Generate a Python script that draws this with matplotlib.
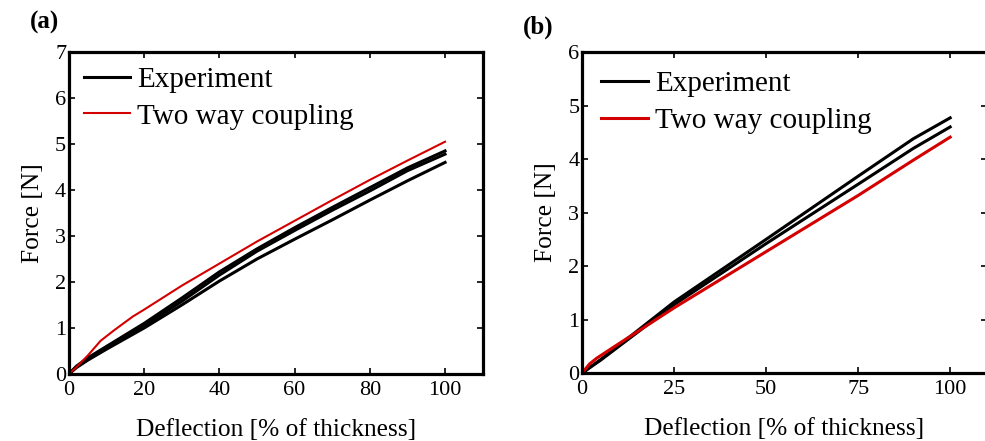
import matplotlib
matplotlib.use("Agg")
import matplotlib.pyplot as plt

plt.rcParams['font.family'] = ['Liberation Serif', 'DejaVu Serif']
plt.rcParams['mathtext.fontset'] = 'stix'

# Panel (a) data: deflection [% of thickness] vs force [N]
a_exp_x = [0, 2, 5, 10, 20, 30, 40, 50, 60, 70, 80, 90, 100]
a_exp1 = [0, 0.17, 0.35, 0.60, 1.10, 1.65, 2.22, 2.72, 3.18, 3.62, 4.05, 4.48, 4.85]
a_exp2 = [0, 0.15, 0.32, 0.57, 1.05, 1.58, 2.15, 2.67, 3.12, 3.56, 3.98, 4.42, 4.78]
a_exp3 = [0, 0.14, 0.30, 0.54, 1.00, 1.50, 2.02, 2.50, 2.93, 3.35, 3.78, 4.20, 4.60]
a_sim_x = [0, 2, 5, 8.4, 12, 17, 20, 30, 40, 50, 60, 70, 80, 90, 100]
a_sim = [0, 0.15, 0.40, 0.72, 0.95, 1.25, 1.40, 1.92, 2.40, 2.88, 3.33, 3.78, 4.22, 4.64, 5.05]

# Panel (b) data
b_exp_x = [0, 2, 5, 10, 25, 50, 75, 90, 100]
b_exp1 = [0, 0.10, 0.25, 0.52, 1.33, 2.50, 3.68, 4.38, 4.77]
b_exp2 = [0, 0.10, 0.24, 0.50, 1.28, 2.42, 3.53, 4.20, 4.60]
b_sim_x = [0, 2, 4, 10, 25, 50, 75, 90, 100]
b_sim = [0, 0.17, 0.28, 0.55, 1.22, 2.27, 3.32, 3.98, 4.41]

a_xticks = [0, 20, 40, 60, 80, 100]
b_xticks = [0, 25, 50, 75, 100]

RED = '#d40000'


def style_axes(ax, xticks, ymax):
    ax.set_xlim(0, 110)
    ax.set_ylim(0, ymax)
    ax.set_xticks(xticks)
    ax.set_yticks(range(ymax + 1))
    for s in ax.spines.values():
        s.set_linewidth(2.3)
    ax.tick_params(direction='in', top=True, right=True, length=4, width=1.2,
                   labelsize=16)
    ax.tick_params(axis='y', pad=2)
    ax.tick_params(axis='x', pad=5)
    ax.set_xlabel("Deflection [% of thickness]", fontsize=18.3, labelpad=14)
    ax.set_ylabel("Force [N]", fontsize=18.3, labelpad=8)


def add_legend(ax, pad):
    ax.legend(loc='upper left', frameon=False, fontsize=21, handlelength=1.6,
              handletextpad=0.24, borderpad=0.35, borderaxespad=pad,
              labelspacing=0.35)


fig = plt.figure(figsize=(9.85, 4.41), dpi=100)

axa = fig.add_axes([0.070, 0.152, 0.420, 0.730])
axa.plot(a_exp_x, a_exp1, color='black', lw=2.2, label="Experiment")
axa.plot(a_exp_x, a_exp2, color='black', lw=2.2)
axa.plot(a_exp_x, a_exp3, color='black', lw=2.2)
axa.plot(a_sim_x, a_sim, color=RED, lw=1.5, label="Two way coupling")
style_axes(axa, a_xticks, 7)
add_legend(axa, 0.15)
fig.text(0.030, 0.975, "(a)", fontsize=18, fontweight='bold', va='top')

axb = fig.add_axes([0.591, 0.154, 0.411, 0.728])
axb.plot(b_exp_x, b_exp1, color='black', lw=2.2, label="Experiment")
axb.plot(b_exp_x, b_exp2, color='black', lw=2.2)
axb.plot(b_sim_x, b_sim, color=RED, lw=2.2, label="Two way coupling")
style_axes(axb, b_xticks, 6)
add_legend(axb, 0.3)
fig.text(0.531, 0.965, "(b)", fontsize=18, fontweight='bold', va='top')

fig.savefig("out.png", dpi=100)
